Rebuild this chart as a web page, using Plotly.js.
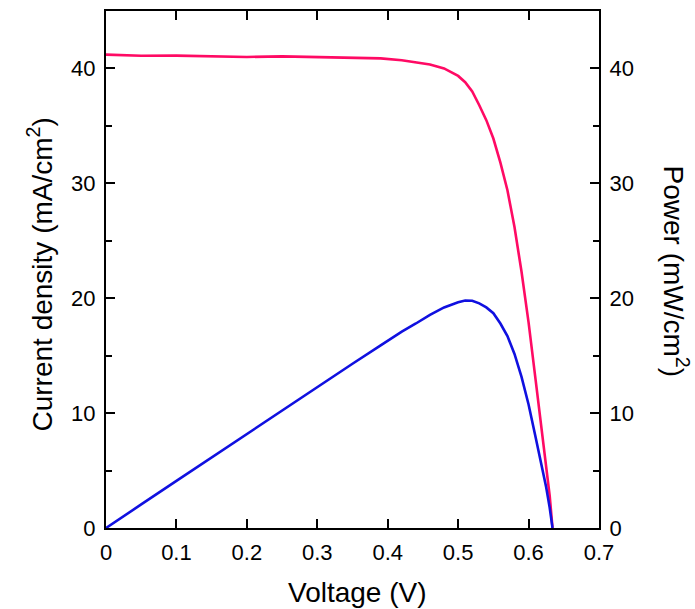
<!DOCTYPE html>
<html>
<head>
<meta charset="utf-8">
<script src="https://cdn.plot.ly/plotly-3.0.1.min.js"></script>
<style>html,body{margin:0;padding:0;background:#fff;}#chart{width:695px;height:609px;}</style>
</head>
<body>
<div id="chart"></div>
<script>
// Voltage (V)
const voltage = [0, 0.02, 0.05, 0.1, 0.15, 0.2, 0.25, 0.3, 0.35, 0.39, 0.42, 0.44, 0.46, 0.48, 0.5, 0.51, 0.52, 0.53, 0.54, 0.55, 0.56, 0.57, 0.58, 0.59, 0.6, 0.61, 0.62, 0.625, 0.63, 0.634];
// Current density (mA/cm2)
const currentDensity = [41.2, 41.15, 41.1, 41.12, 41.05, 41.0, 41.05, 41.0, 40.95, 40.88, 40.72, 40.55, 40.35, 40.0, 39.35, 38.8, 38.0, 36.8, 35.5, 33.9, 31.8, 29.4, 26.2, 22.3, 17.9, 12.9, 8.0, 5.7, 2.8, 0];
// Power (mW/cm2)
const power = [0, 0.8, 2.05, 4.1, 6.15, 8.2, 10.25, 12.3, 14.3, 15.9, 17.1, 17.8, 18.55, 19.2, 19.65, 19.8, 19.78, 19.55, 19.2, 18.7, 17.8, 16.7, 15.15, 13.15, 10.75, 7.9, 4.95, 3.55, 1.75, 0];

const xTicks = [0, 0.1, 0.2, 0.3, 0.4, 0.5, 0.6, 0.7];
const yTicks = [0, 10, 20, 30, 40];

const font = 'Liberation Sans, Arial, sans-serif';

const traces = [
  {x: voltage, y: currentDensity, type: 'scatter', mode: 'lines',
   line: {color: '#ff0a64', width: 2.6}, yaxis: 'y', showlegend: false},
  {x: voltage, y: power, type: 'scatter', mode: 'lines',
   line: {color: '#1010e0', width: 2.6}, yaxis: 'y2', showlegend: false}
];

const common = {
  ticks: 'inside', ticklen: 9, tickwidth: 2, tickcolor: '#000',
  showline: true, linewidth: 2, linecolor: '#000',
  showgrid: false, zeroline: false,
  tickfont: {family: font, size: 22, color: '#000'}
};

const layout = {
  width: 695, height: 609,
  margin: {l: 106, r: 96, t: 11, b: 81, pad: 0},
  paper_bgcolor: '#fff', plot_bgcolor: '#fff',
  font: {family: font, color: '#000'},
  xaxis: Object.assign({}, common, {
    range: [0, 0.7], tickvals: xTicks, ticktext: xTicks.map(String),
    mirror: 'ticks', ticklabelstandoff: 4
  }),
  yaxis: Object.assign({}, common, {
    range: [0, 45], tickvals: yTicks, ticktext: yTicks.map(String),
    minor: {dtick: 5, tick0: 0, ticks: 'inside', ticklen: 6, tickwidth: 2, tickcolor: '#000'},
    ticklabelstandoff: 4
  }),
  yaxis2: Object.assign({}, common, {
    range: [0, 45], tickvals: yTicks, ticktext: yTicks.map(String),
    overlaying: 'y', side: 'right',
    minor: {dtick: 5, tick0: 0, ticks: 'inside', ticklen: 6, tickwidth: 2, tickcolor: '#000'},
    ticklabelstandoff: 4
  }),
  annotations: [
    {text: 'Voltage (V)', xref: 'paper', yref: 'paper', x: 0.5, y: 0,
     xanchor: 'center', yanchor: 'top', xshift: 5, yshift: -47, showarrow: false,
     font: {family: font, size: 28, color: '#000'}},
    {text: 'Current density (mA/cm<sup>2</sup>)', xref: 'paper', yref: 'paper', x: 0, y: 0.5,
     xanchor: 'center', yanchor: 'middle', xshift: -66, yshift: -5, textangle: -90, showarrow: false,
     font: {family: font, size: 28, color: '#000'}},
    {text: 'Power (mW/cm<sup>2</sup>)', xref: 'paper', yref: 'paper', x: 1, y: 0.5,
     xanchor: 'center', yanchor: 'middle', xshift: 77, yshift: -2, textangle: 90, showarrow: false,
     font: {family: font, size: 28, color: '#000'}}
  ]
};

Plotly.newPlot('chart', traces, layout, {displayModeBar: false, staticPlot: true});
</script>
</body>
</html>
